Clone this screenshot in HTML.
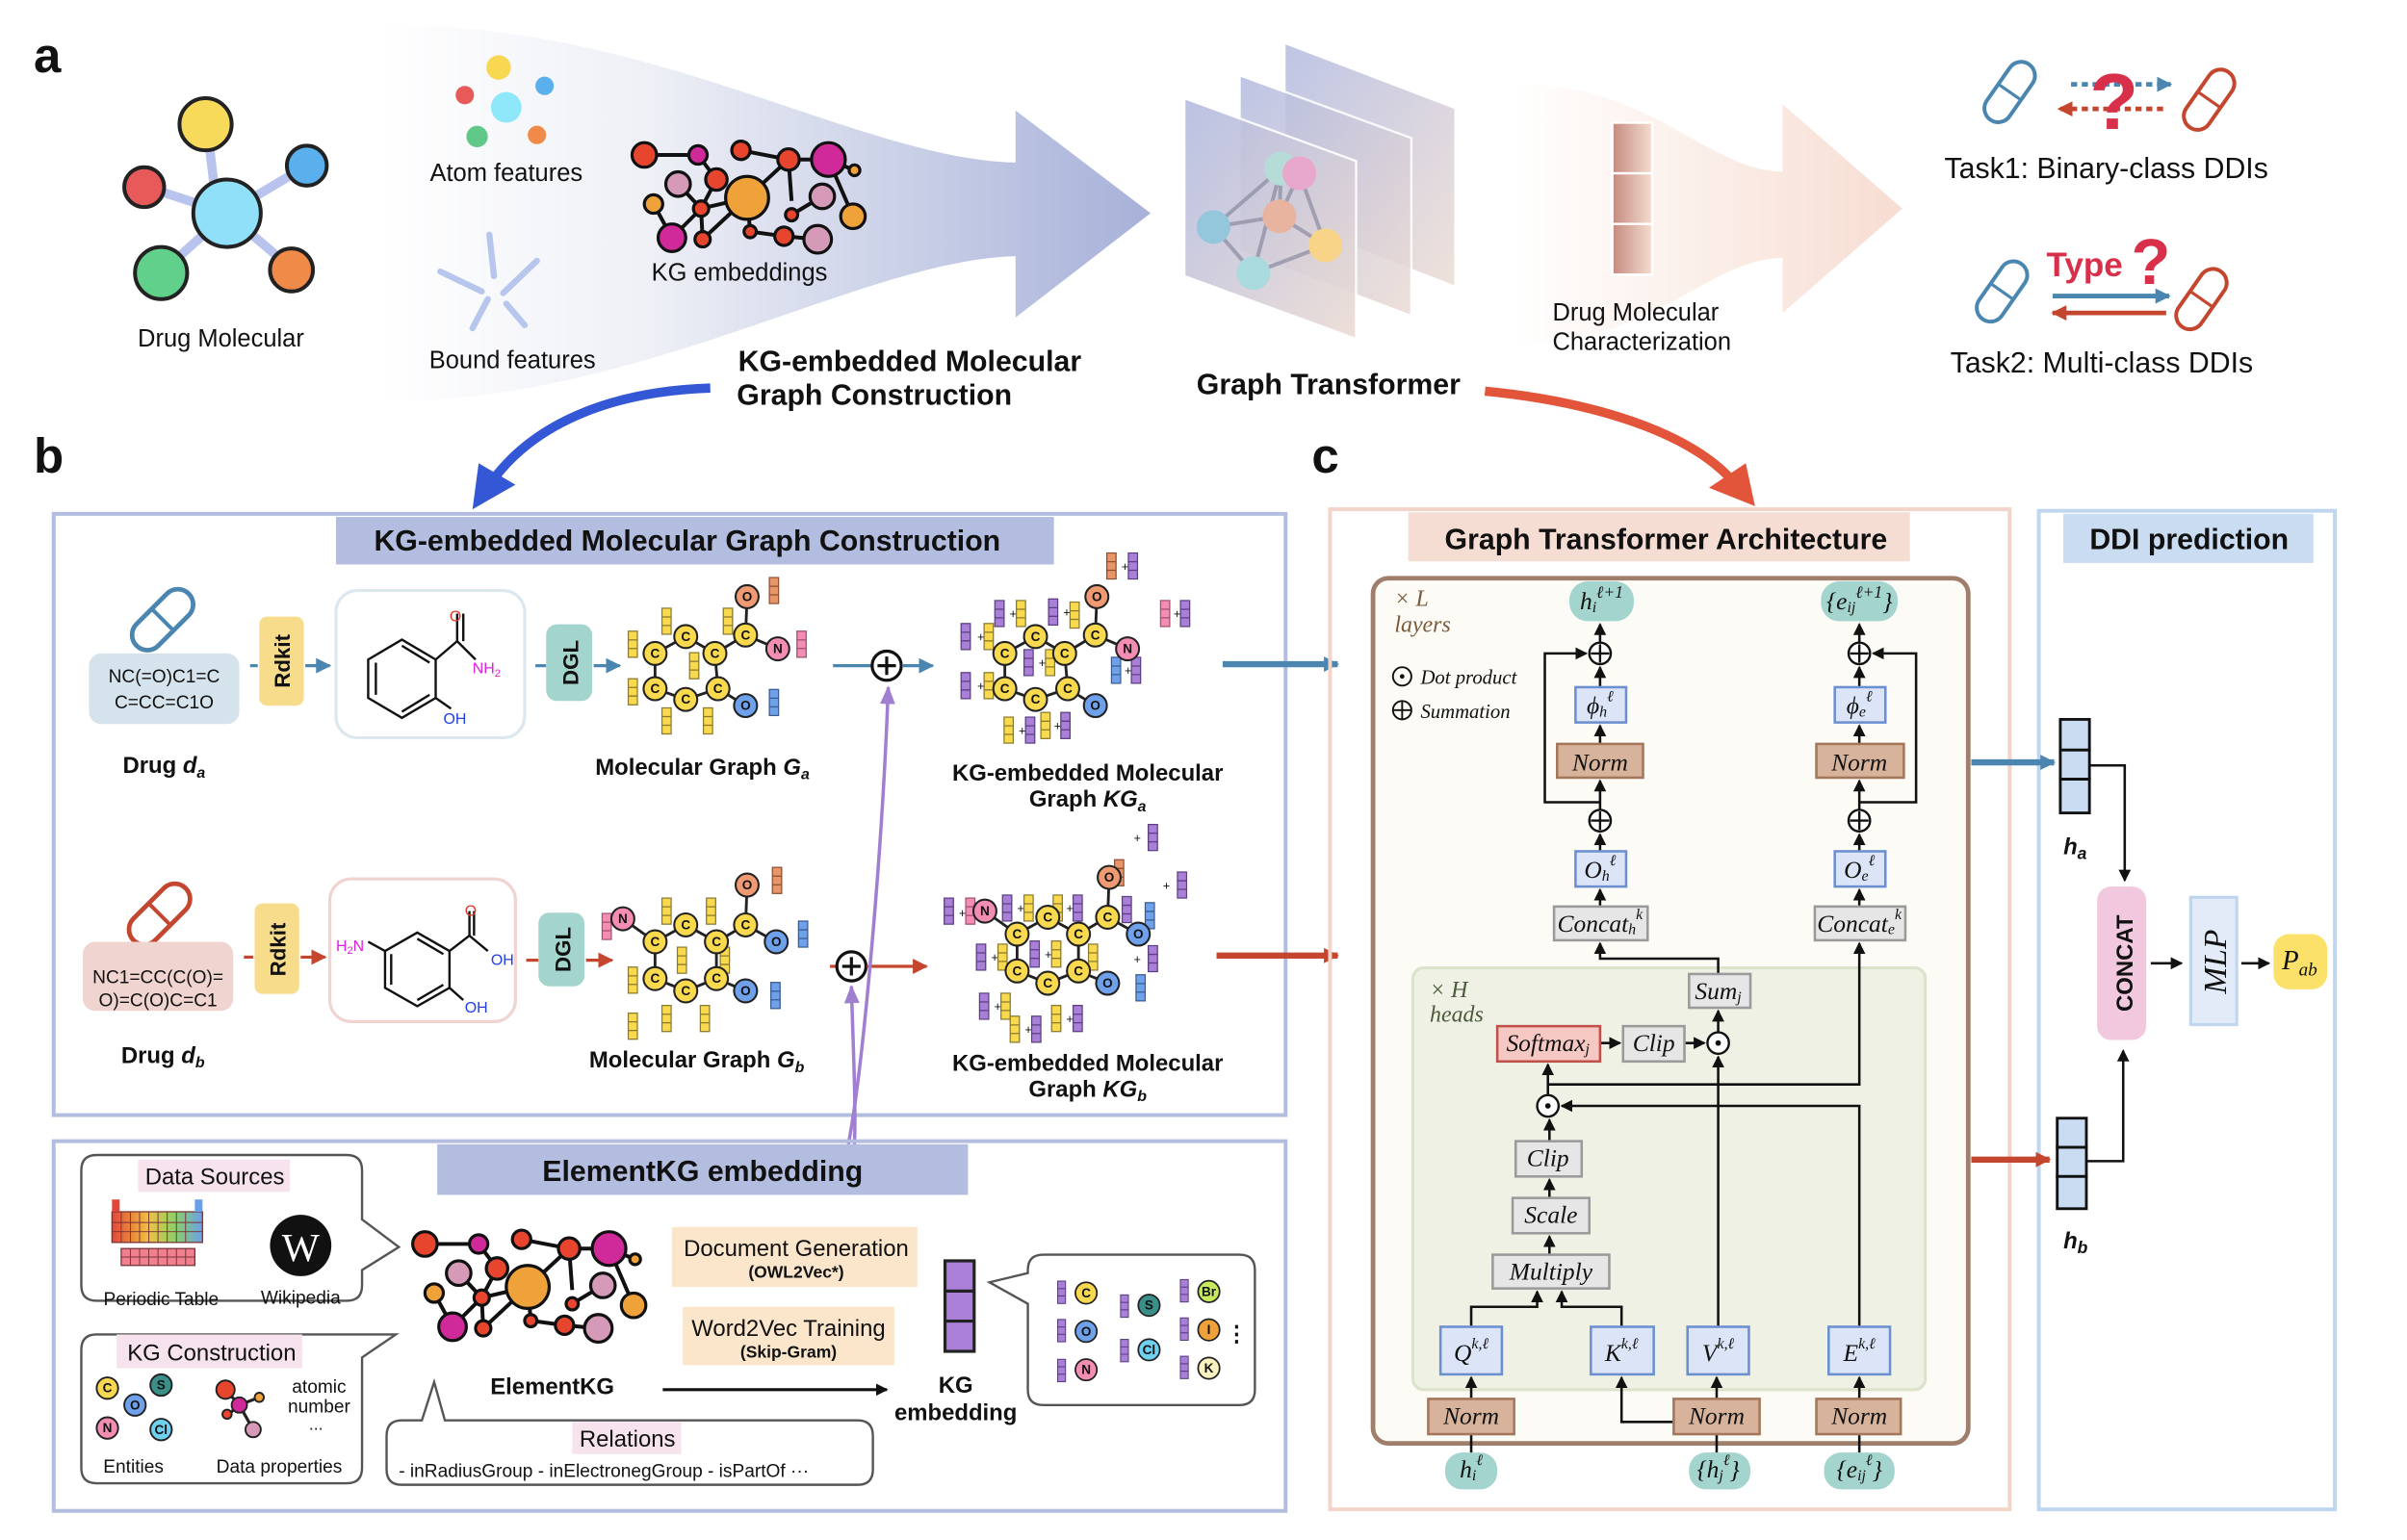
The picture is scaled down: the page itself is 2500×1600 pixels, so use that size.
<!DOCTYPE html>
<html><head><meta charset="utf-8"><style>
html,body{margin:0;padding:0;background:#fff}
svg{display:block}
text{font-family:"Liberation Sans",sans-serif;fill:#111}
.b{font-weight:bold}
.m{font-family:"Liberation Serif",serif;font-style:italic}
.c{fill:#f9d94e;stroke:#222;stroke-width:1.3}
.ct{font-size:8.5px;font-weight:bold;text-anchor:middle;dominant-baseline:central}
.bx{fill:#e6e6e6;stroke:#9a9a9a;stroke-width:1.6}
.bl{fill:#dbe5f7;stroke:#6b8fd0;stroke-width:1.6}
.nm{fill:#d7b39c;stroke:#a4775a;stroke-width:1.6}
.pl{fill:#a3d4cd}
.ln{stroke:#111;stroke-width:1.6;fill:none}
.tl{font-size:16px;font-family:"Liberation Serif",serif;font-style:italic;text-anchor:middle;dominant-baseline:central}
</style></head><body>
<svg width="2500" height="1600" viewBox="0 0 1569 1004" preserveAspectRatio="none" xmlns="http://www.w3.org/2000/svg">
<defs>
<linearGradient id="ga" x1="0" x2="1"><stop offset="0" stop-color="#fff"/><stop offset="0.35" stop-color="#eef0f6"/><stop offset="1" stop-color="#a7b1d9"/></linearGradient>
<linearGradient id="gp" x1="0" x2="1"><stop offset="0" stop-color="#fff"/><stop offset="1" stop-color="#f7ddd2"/></linearGradient>
<linearGradient id="gpan" x1="0" y1="0" x2="1" y2="1"><stop offset="0" stop-color="#b3bbe0"/><stop offset="1" stop-color="#ecdcd4"/></linearGradient>
<linearGradient id="gbar" x1="0" x2="1"><stop offset="0" stop-color="#c58a7f"/><stop offset="1" stop-color="#f5ddd0"/></linearGradient>
<linearGradient id="gpt" x1="0" x2="1"><stop offset="0" stop-color="#e2463a"/><stop offset="0.4" stop-color="#f0c040"/><stop offset="0.7" stop-color="#8ad06a"/><stop offset="1" stop-color="#6aa0e8"/></linearGradient>
<marker id="ar" markerWidth="8" markerHeight="8" refX="7" refY="4" orient="auto" markerUnits="userSpaceOnUse"><path d="M0,0 L8,4 L0,8Z" fill="#111"/></marker>
<marker id="arb" markerWidth="10" markerHeight="10" refX="9" refY="5" orient="auto" markerUnits="userSpaceOnUse"><path d="M0,0 L10,5 L0,10Z" fill="#4a86b0"/></marker>
<marker id="arr" markerWidth="10" markerHeight="10" refX="9" refY="5" orient="auto" markerUnits="userSpaceOnUse"><path d="M0,0 L10,5 L0,10Z" fill="#c4462f"/></marker>
<marker id="arp" markerWidth="12" markerHeight="10" refX="11" refY="5" orient="auto" markerUnits="userSpaceOnUse"><path d="M0,0 L12,5 L0,10Z" fill="#a07fd0"/></marker>
<symbol id="yb" viewBox="0 0 7 18" width="7" height="18"><rect x=".5" y=".5" width="6" height="17" fill="#f9d94e" stroke="#8a7a30" stroke-width=".8"/><path d="M.5,6.2H6.5M.5,11.8H6.5" stroke="#8a7a30" stroke-width=".8"/></symbol>
<symbol id="pb" viewBox="0 0 7 18" width="7" height="18"><rect x=".5" y=".5" width="6" height="17" fill="#a97fd8" stroke="#5a4080" stroke-width=".8"/><path d="M.5,6.2H6.5M.5,11.8H6.5" stroke="#5a4080" stroke-width=".8"/></symbol>
<symbol id="kb" viewBox="0 0 7 18" width="7" height="18"><rect x=".5" y=".5" width="6" height="17" fill="#f38db3" stroke="#a05070" stroke-width=".8"/><path d="M.5,6.2H6.5M.5,11.8H6.5" stroke="#a05070" stroke-width=".8"/></symbol>
<symbol id="bb" viewBox="0 0 7 18" width="7" height="18"><rect x=".5" y=".5" width="6" height="17" fill="#6fa0ea" stroke="#3a5c90" stroke-width=".8"/><path d="M.5,6.2H6.5M.5,11.8H6.5" stroke="#3a5c90" stroke-width=".8"/></symbol>
<symbol id="ob" viewBox="0 0 7 18" width="7" height="18"><rect x=".5" y=".5" width="6" height="17" fill="#e8956a" stroke="#905030" stroke-width=".8"/><path d="M.5,6.2H6.5M.5,11.8H6.5" stroke="#905030" stroke-width=".8"/></symbol>
<g id="kgnet">
<path d="M277,811L312,811L324,827L314,846L295,865M299,830L314,846L315,866M283,843L295,865M314,846L344,839L371,814L340,808M371,814L397,814L414,821M371,814L373,841M393,838L373,850M397,814L413,851M344,839L346,861L368,864L390,866M344,839L315,866" stroke="#111" stroke-width="2.5" fill="none"/>
<g stroke="#111" stroke-width="2">
<circle cx="277" cy="811" r="8" fill="#e8452f"/><circle cx="312" cy="811" r="6" fill="#d02a9a"/><circle cx="324" cy="827" r="7" fill="#e8452f"/><circle cx="299" cy="830" r="8" fill="#d49ab8"/><circle cx="283" cy="843" r="6" fill="#f0a23a"/><circle cx="314" cy="846" r="5" fill="#e8452f"/><circle cx="295" cy="865" r="9" fill="#d02a9a"/><circle cx="315" cy="866" r="5" fill="#e8452f"/><circle cx="344" cy="839" r="14" fill="#f0a23a"/><circle cx="340" cy="808" r="6" fill="#e8452f"/><circle cx="371" cy="814" r="7" fill="#e8452f"/><circle cx="397" cy="814" r="11" fill="#d02a9a"/><circle cx="414" cy="821" r="3.5" fill="#f0a23a"/><circle cx="393" cy="838" r="8" fill="#d49ab8"/><circle cx="373" cy="850" r="4" fill="#e8452f"/><circle cx="413" cy="851" r="8" fill="#f0a23a"/><circle cx="346" cy="861" r="4" fill="#e8452f"/><circle cx="368" cy="864" r="6" fill="#e8452f"/><circle cx="390" cy="866" r="9" fill="#d49ab8"/>
</g></g>
</defs>

<!-- ===== Section a ===== -->
<text x="22" y="47" class="b" font-size="32">a</text>
<path d="M248,17 C420,12 560,104 662,106 L662,72 L750,139 L662,207 L662,167 C560,170 420,262 248,262 Z" fill="url(#ga)"/>
<path d="M987,54 C1080,56 1110,110 1162,112 L1162,68 L1240,136 L1162,204 L1162,168 C1110,170 1080,224 987,224 Z" fill="url(#gp)"/>
<g stroke="#222" stroke-width="2.5">
<line x1="135" y1="82" x2="140" y2="125" stroke="#b8c4ee" stroke-width="6"/><line x1="96" y1="122" x2="148" y2="139" stroke="#b8c4ee" stroke-width="6"/><line x1="200" y1="108" x2="148" y2="139" stroke="#b8c4ee" stroke-width="6"/><line x1="105" y1="178" x2="148" y2="139" stroke="#b8c4ee" stroke-width="6"/><line x1="190" y1="175" x2="148" y2="139" stroke="#b8c4ee" stroke-width="6"/>
<circle cx="148" cy="139" r="22" fill="#8fe0f8"/><circle cx="134" cy="81" r="17" fill="#f8da5a"/><circle cx="94" cy="122" r="13" fill="#e85a5a"/><circle cx="200" cy="108" r="13" fill="#5ab0ec"/><circle cx="105" cy="178" r="17" fill="#60d08a"/><circle cx="190" cy="176" r="14" fill="#f08a48"/>
</g>
<text x="144" y="226" font-size="16" text-anchor="middle">Drug Molecular</text>
<circle cx="325" cy="44" r="8" fill="#f8d850"/><circle cx="355" cy="56" r="6" fill="#5ab0ec"/><circle cx="303" cy="62" r="6" fill="#e85a5a"/><circle cx="330" cy="70" r="10" fill="#8fe8fa"/><circle cx="311" cy="89" r="7" fill="#60c888"/><circle cx="350" cy="88" r="6" fill="#f08a48"/>
<text x="330" y="118" font-size="16" text-anchor="middle">Atom features</text>
<g stroke="#b6c6ec" stroke-width="4" stroke-linecap="round"><line x1="319" y1="153" x2="322" y2="180"/><line x1="287" y1="177" x2="314" y2="190"/><line x1="350" y1="170" x2="328" y2="191"/><line x1="308" y1="214" x2="318" y2="195"/><line x1="330" y1="198" x2="342" y2="212"/></g>
<text x="334" y="240" font-size="16" text-anchor="middle">Bound features</text>
<use href="#kgnet" transform="translate(143,-710)"/>
<text x="482" y="183" font-size="16" text-anchor="middle">KG embeddings</text>
<text x="593" y="242" class="b" font-size="19" text-anchor="middle">KG-embedded Molecular</text>
<text x="570" y="264" class="b" font-size="19" text-anchor="middle">Graph Construction</text>
<polygon points="838,29 948,71 948,186 838,143" fill="url(#gpan)" opacity="0.85"/>
<polygon points="808,49 920,90 920,206 808,164" fill="url(#gpan)" opacity="0.85" stroke="#fff" stroke-width="1.5"/>
<polygon points="772,64 884,105 884,221 772,180" fill="url(#gpan)" opacity="0.9" stroke="#fff" stroke-width="1.5"/>
<g stroke="#8a8aa0" stroke-width="2.5" opacity="0.7" fill="none"><path d="M835,110L847,113L834,141L791,148L817,178L864,160L847,113M835,110L834,141L864,160M835,110L817,178M791,148L835,110"/></g>
<circle cx="835" cy="110" r="11" fill="#b6dcd8"/><circle cx="847" cy="113" r="11" fill="#e8a8cc"/><circle cx="791" cy="148" r="11" fill="#94c6dc"/><circle cx="834" cy="141" r="11" fill="#e8b4a0"/><circle cx="864" cy="160" r="11" fill="#f8d488"/><circle cx="817" cy="178" r="11" fill="#a8dade"/>
<text x="866" y="257" class="b" font-size="19" text-anchor="middle">Graph Transformer</text>
<g stroke="#fff" stroke-width="1.5"><rect x="1051" y="80" width="26" height="33" fill="url(#gbar)"/><rect x="1051" y="113" width="26" height="33" fill="url(#gbar)"/><rect x="1051" y="146" width="26" height="33" fill="url(#gbar)"/></g>
<text x="1012" y="209" font-size="16">Drug Molecular</text>
<text x="1012" y="228" font-size="16">Characterization</text>
<g transform="translate(1310,60) rotate(-55)"><rect x="-22" y="-9" width="44" height="18" rx="9" fill="#fff" stroke="#4a86b0" stroke-width="2.5"/><line x1="0" y1="-9" x2="0" y2="9" stroke="#4a86b0" stroke-width="2"/></g>
<g transform="translate(1440,65) rotate(-55)"><rect x="-22" y="-9" width="44" height="18" rx="9" fill="#fff" stroke="#c4462f" stroke-width="2.5"/><line x1="0" y1="-9" x2="0" y2="9" stroke="#c4462f" stroke-width="2"/></g>
<line x1="1350" y1="55" x2="1415" y2="55" stroke="#4a86b0" stroke-width="3" stroke-dasharray="4,3" marker-end="url(#arb)"/>
<line x1="1410" y1="71" x2="1342" y2="71" stroke="#c4462f" stroke-width="3" stroke-dasharray="4,3" marker-end="url(#arr)"/>
<text x="1378" y="84" class="b" font-size="52" text-anchor="middle" style="fill:#d8304a">?</text>
<text x="1373" y="116" font-size="19" text-anchor="middle">Task1: Binary-class DDIs</text>
<g transform="translate(1305,190) rotate(-55)"><rect x="-22" y="-9" width="44" height="18" rx="9" fill="#fff" stroke="#4a86b0" stroke-width="2.5"/><line x1="0" y1="-9" x2="0" y2="9" stroke="#4a86b0" stroke-width="2"/></g>
<g transform="translate(1435,195) rotate(-55)"><rect x="-22" y="-9" width="44" height="18" rx="9" fill="#fff" stroke="#c4462f" stroke-width="2.5"/><line x1="0" y1="-9" x2="0" y2="9" stroke="#c4462f" stroke-width="2"/></g>
<text x="1334" y="180" class="b" font-size="22" style="fill:#d8304a">Type</text>
<text x="1402" y="185" class="b" font-size="42" style="fill:#d8304a" text-anchor="middle">?</text>
<line x1="1338" y1="193" x2="1414" y2="193" stroke="#4a86b0" stroke-width="3" marker-end="url(#arb)"/>
<line x1="1412" y1="204" x2="1338" y2="204" stroke="#c4462f" stroke-width="3" marker-end="url(#arr)"/>
<text x="1370" y="243" font-size="19" text-anchor="middle">Task2: Multi-class DDIs</text>
<path d="M463,253 C400,255 350,275 322,312" stroke="#3457d5" stroke-width="6" fill="none"/>
<polygon points="308,332 312,302 336,316" fill="#3457d5"/>
<path d="M968,255 C1040,262 1100,282 1128,312" stroke="#e2553a" stroke-width="6" fill="none"/>
<polygon points="1144,330 1114,318 1138,302" fill="#e2553a"/>

<!-- ===== Section b ===== -->
<text x="22" y="308" class="b" font-size="32">b</text>
<rect x="35" y="335" width="803" height="392" fill="none" stroke="#b3bde0" stroke-width="2.5"/>
<rect x="219" y="337" width="468" height="31" fill="#b3bde0"/>
<text x="448" y="359" class="b" font-size="19" text-anchor="middle">KG-embedded Molecular Graph Construction</text>
<g transform="translate(106,404) rotate(-45)"><rect x="-24" y="-10" width="48" height="20" rx="10" fill="#fff" stroke="#4a86b0" stroke-width="3"/><line x1="0" y1="-10" x2="0" y2="10" stroke="#4a86b0" stroke-width="2.5"/></g>
<rect x="58" y="426" width="98" height="46" rx="8" fill="#d5e3ec"/>
<text x="107" y="445" font-size="12" text-anchor="middle">NC(=O)C1=C</text><text x="107" y="462" font-size="12" text-anchor="middle">C=CC=C1O</text>
<text x="80" y="504" class="b" font-size="15">Drug <tspan font-style="italic">d</tspan><tspan font-style="italic" font-size="10" dy="3">a</tspan></text>
<line x1="163" y1="434" x2="168" y2="434" stroke="#4a86b0" stroke-width="2"/>
<rect x="169" y="402" width="29" height="58" rx="5" fill="#f7dc8c"/><text transform="translate(189,431) rotate(-90)" class="b" font-size="14" text-anchor="middle">Rdkit</text>
<line x1="199" y1="434" x2="215" y2="434" stroke="#4a86b0" stroke-width="2" marker-end="url(#arb)"/>
<rect x="219" y="385" width="123" height="96" rx="14" fill="#fff" stroke="#dce8ee" stroke-width="2"/>
<path d="M240,430 L262,417 L284,430 L284,455 L262,468 L240,455Z M245,432 L245,453 M262,421 L280,432 M262,464 L280,453 M284,430 L298,418 M298,418 L298,400 M302,418 L302,400 M298,418 L310,430 M284,455 L294,462" stroke="#111" stroke-width="1.5" fill="none"/>
<text x="293" y="405" font-size="10" style="fill:#e23a2a">O</text><text x="308" y="439" font-size="10" style="fill:#e020e0">NH<tspan font-size="7" dy="2">2</tspan></text><text x="289" y="472" font-size="10" style="fill:#2040e0">OH</text>
<line x1="349" y1="434" x2="356" y2="434" stroke="#4a86b0" stroke-width="2"/>
<rect x="356" y="407" width="30" height="50" rx="7" fill="#a3d4cd"/><text transform="translate(377,432) rotate(-90)" class="b" font-size="14" text-anchor="middle">DGL</text>
<line x1="387" y1="434" x2="404" y2="434" stroke="#4a86b0" stroke-width="2" marker-end="url(#arb)"/>
<g transform="translate(447,436)">
<path d="M-20,-10L0,-21L19,-10L21,13L0,20L-20,13Z M19,-10L39,-22L40,-47M39,-22L60,-13M21,13L39,24" stroke="#222" stroke-width="1.8" fill="none"/>
<use href="#yb" x="-38" y="-25"/><use href="#yb" x="-38" y="6"/><use href="#yb" x="-16" y="-40"/><use href="#yb" x="24" y="-40"/><use href="#yb" x="2" y="-11"/><use href="#yb" x="-16" y="25"/><use href="#yb" x="11" y="25"/><use href="#ob" x="54" y="-60"/><use href="#kb" x="72" y="-25"/><use href="#bb" x="54" y="13"/>
<circle class="c" cx="-20" cy="-10" r="7.5"/><circle class="c" cx="0" cy="-21" r="7.5"/><circle class="c" cx="19" cy="-10" r="7.5"/><circle class="c" cx="21" cy="13" r="7.5"/><circle class="c" cx="0" cy="20" r="7.5"/><circle class="c" cx="-20" cy="13" r="7.5"/><circle class="c" cx="39" cy="-22" r="7.5"/>
<circle cx="40" cy="-47" r="7.5" fill="#ef9a72" stroke="#222" stroke-width="1.3"/><circle cx="60" cy="-13" r="7.5" fill="#f38db3" stroke="#222" stroke-width="1.3"/><circle cx="39" cy="24" r="7.5" fill="#6fa0ea" stroke="#222" stroke-width="1.3"/>
<text class="ct" x="-20" y="-10">C</text><text class="ct" x="0" y="-21">C</text><text class="ct" x="19" y="-10">C</text><text class="ct" x="21" y="13">C</text><text class="ct" x="0" y="20">C</text><text class="ct" x="-20" y="13">C</text><text class="ct" x="39" y="-22">C</text><text class="ct" x="40" y="-47">O</text><text class="ct" x="60" y="-13">N</text><text class="ct" x="39" y="24">O</text>
</g>
<text x="388" y="505" class="b" font-size="15">Molecular Graph <tspan font-style="italic">G</tspan><tspan font-style="italic" font-size="10" dy="3">a</tspan></text>
<line x1="543" y1="434" x2="568" y2="434" stroke="#4a86b0" stroke-width="2"/>
<circle cx="578" cy="434" r="9.5" fill="#fff" stroke="#111" stroke-width="2"/><path d="M572,434H584M578,428V440" stroke="#111" stroke-width="2"/>
<line x1="588" y1="434" x2="608" y2="434" stroke="#4a86b0" stroke-width="2" marker-end="url(#arb)"/>
<g transform="translate(675,436)">
<path d="M-20,-10L0,-21L19,-10L21,13L0,20L-20,13Z M19,-10L39,-22L40,-47M39,-22L60,-13M21,13L39,24" stroke="#222" stroke-width="1.8" fill="none"/>
<use href="#pb" x="-49" y="-30"/><text x="-38" y="-18" font-size="8">+</text><use href="#yb" x="-34" y="-30"/>
<use href="#pb" x="-49" y="2"/><text x="-38" y="14" font-size="8">+</text><use href="#yb" x="-34" y="2"/>
<use href="#pb" x="-27" y="-45"/><text x="-17" y="-33" font-size="8">+</text><use href="#yb" x="-13" y="-45"/>
<use href="#pb" x="8" y="-46"/><text x="18" y="-34" font-size="8">+</text><use href="#yb" x="22" y="-44"/>
<use href="#pb" x="-8" y="-13"/><text x="2" y="-1" font-size="8">+</text><use href="#yb" x="6" y="-13"/>
<use href="#yb" x="-21" y="31"/><text x="-11" y="43" font-size="8">+</text><use href="#pb" x="-7" y="31"/>
<use href="#yb" x="3" y="28"/><text x="12" y="40" font-size="8">+</text><use href="#pb" x="16" y="28"/>
<use href="#ob" x="46" y="-76"/><text x="56" y="-64" font-size="8">+</text><use href="#pb" x="60" y="-76"/>
<use href="#kb" x="81" y="-45"/><text x="90" y="-33" font-size="8">+</text><use href="#pb" x="94" y="-45"/>
<use href="#bb" x="49" y="-8"/><text x="58" y="4" font-size="8">+</text><use href="#pb" x="62" y="-8"/>
<circle class="c" cx="-20" cy="-10" r="7.5"/><circle class="c" cx="0" cy="-21" r="7.5"/><circle class="c" cx="19" cy="-10" r="7.5"/><circle class="c" cx="21" cy="13" r="7.5"/><circle class="c" cx="0" cy="20" r="7.5"/><circle class="c" cx="-20" cy="13" r="7.5"/><circle class="c" cx="39" cy="-22" r="7.5"/>
<circle cx="40" cy="-47" r="7.5" fill="#ef9a72" stroke="#222" stroke-width="1.3"/><circle cx="60" cy="-13" r="7.5" fill="#f38db3" stroke="#222" stroke-width="1.3"/><circle cx="39" cy="24" r="7.5" fill="#6fa0ea" stroke="#222" stroke-width="1.3"/>
<text class="ct" x="-20" y="-10">C</text><text class="ct" x="0" y="-21">C</text><text class="ct" x="19" y="-10">C</text><text class="ct" x="21" y="13">C</text><text class="ct" x="0" y="20">C</text><text class="ct" x="-20" y="13">C</text><text class="ct" x="39" y="-22">C</text><text class="ct" x="40" y="-47">O</text><text class="ct" x="60" y="-13">N</text><text class="ct" x="39" y="24">O</text>
</g>
<text x="709" y="509" class="b" font-size="15" text-anchor="middle">KG-embedded Molecular</text>
<text x="709" y="526" class="b" font-size="15" text-anchor="middle">Graph <tspan font-style="italic">KG</tspan><tspan font-style="italic" font-size="10" dy="3">a</tspan></text>
<line x1="797" y1="433" x2="872" y2="433" stroke="#4a86b0" stroke-width="4" marker-end="url(#arb)"/>
<g transform="translate(104,596) rotate(-45)"><rect x="-24" y="-10" width="48" height="20" rx="10" fill="#fff" stroke="#c4462f" stroke-width="3"/><line x1="0" y1="-10" x2="0" y2="10" stroke="#c4462f" stroke-width="2.5"/></g>
<rect x="54" y="614" width="98" height="45" rx="8" fill="#efd4d0"/>
<text x="103" y="641" font-size="12" text-anchor="middle">NC1=CC(C(O)=</text><text x="103" y="656" font-size="12" text-anchor="middle">O)=C(O)C=C1</text>
<text x="79" y="693" class="b" font-size="15">Drug <tspan font-style="italic">d</tspan><tspan font-style="italic" font-size="10" dy="3">b</tspan></text>
<line x1="159" y1="624" x2="165" y2="624" stroke="#c4462f" stroke-width="2"/>
<rect x="166" y="589" width="29" height="59" rx="5" fill="#f7dc8c"/><text transform="translate(186,619) rotate(-90)" class="b" font-size="14" text-anchor="middle">Rdkit</text>
<line x1="196" y1="624" x2="212" y2="624" stroke="#c4462f" stroke-width="2" marker-end="url(#arr)"/>
<rect x="215" y="573" width="121" height="93" rx="14" fill="#fff" stroke="#efd4d0" stroke-width="2"/>
<path d="M251,620 L272,608 L293,620 L293,644 L272,656 L251,644Z M255,622 L255,642 M272,612 L289,622 M272,652 L289,642 M251,620 L240,614 M293,620 L306,610 M306,610 L306,594 M309,610 L309,594 M306,610 L318,620 M293,644 L302,652" stroke="#111" stroke-width="1.5" fill="none"/>
<text x="219" y="620" font-size="10" style="fill:#e020e0">H<tspan font-size="7" dy="2">2</tspan><tspan dy="-2">N</tspan></text><text x="303" y="597" font-size="10" style="fill:#e23a2a">O</text><text x="320" y="629" font-size="10" style="fill:#2040e0">OH</text><text x="303" y="660" font-size="10" style="fill:#2040e0">OH</text>
<line x1="343" y1="626" x2="351" y2="626" stroke="#c4462f" stroke-width="2"/>
<rect x="351" y="595" width="30" height="48" rx="7" fill="#a3d4cd"/><text transform="translate(372,619) rotate(-90)" class="b" font-size="14" text-anchor="middle">DGL</text>
<line x1="382" y1="626" x2="399" y2="626" stroke="#c4462f" stroke-width="2" marker-end="url(#arr)"/>
<g transform="translate(447,625)">
<path d="M-20,-11L0,-22L20,-11L20,13L0,21L-20,13Z M-20,-11L-41,-26 M20,-11L39,-22L40,-48M39,-22L59,-11M20,13L39,21" stroke="#222" stroke-width="1.8" fill="none"/>
<use href="#yb" x="-38" y="5"/><use href="#yb" x="-16" y="-40"/><use href="#yb" x="13" y="-40"/><use href="#yb" x="-6" y="-8"/><use href="#yb" x="22" y="-8"/><use href="#yb" x="-38" y="35"/><use href="#yb" x="-16" y="30"/><use href="#yb" x="9" y="30"/><use href="#kb" x="-55" y="-30"/><use href="#ob" x="56" y="-60"/><use href="#bb" x="73" y="-25"/><use href="#bb" x="55" y="15"/>
<circle class="c" cx="-20" cy="-11" r="7.5"/><circle class="c" cx="0" cy="-22" r="7.5"/><circle class="c" cx="20" cy="-11" r="7.5"/><circle class="c" cx="20" cy="13" r="7.5"/><circle class="c" cx="0" cy="21" r="7.5"/><circle class="c" cx="-20" cy="13" r="7.5"/><circle class="c" cx="39" cy="-22" r="7.5"/>
<circle cx="-41" cy="-26" r="7.5" fill="#f38db3" stroke="#222" stroke-width="1.3"/><circle cx="40" cy="-48" r="7.5" fill="#ef9a72" stroke="#222" stroke-width="1.3"/><circle cx="59" cy="-11" r="7.5" fill="#6fa0ea" stroke="#222" stroke-width="1.3"/><circle cx="39" cy="21" r="7.5" fill="#6fa0ea" stroke="#222" stroke-width="1.3"/>
<text class="ct" x="-20" y="-11">C</text><text class="ct" x="0" y="-22">C</text><text class="ct" x="20" y="-11">C</text><text class="ct" x="20" y="13">C</text><text class="ct" x="0" y="21">C</text><text class="ct" x="-20" y="13">C</text><text class="ct" x="39" y="-22">C</text><text class="ct" x="-41" y="-26">N</text><text class="ct" x="40" y="-48">O</text><text class="ct" x="59" y="-11">O</text><text class="ct" x="39" y="21">O</text>
</g>
<text x="384" y="696" class="b" font-size="15">Molecular Graph <tspan font-style="italic">G</tspan><tspan font-style="italic" font-size="10" dy="3">b</tspan></text>
<line x1="541" y1="630" x2="545" y2="630" stroke="#c4462f" stroke-width="2"/>
<circle cx="555" cy="630" r="9.5" fill="#fff" stroke="#111" stroke-width="2"/><path d="M549,630H561M555,624V636" stroke="#111" stroke-width="2"/>
<line x1="565" y1="630" x2="604" y2="630" stroke="#c4462f" stroke-width="2" marker-end="url(#arr)"/>
<g transform="translate(683,620)">
<path d="M-20,-11L0,-22L20,-11L20,13L0,21L-20,13Z M-20,-11L-41,-26 M20,-11L39,-22L40,-48M39,-22L59,-11M20,13L39,21" stroke="#222" stroke-width="1.8" fill="none"/>
<use href="#pb" x="-68" y="-35"/><text x="-58" y="-22" font-size="8">+</text><use href="#kb" x="-54" y="-35"/>
<use href="#pb" x="-30" y="-37"/><text x="-20" y="-25" font-size="8">+</text><use href="#yb" x="-16" y="-37"/>
<use href="#yb" x="3" y="-37"/><text x="12" y="-25" font-size="8">+</text><use href="#pb" x="16" y="-37"/>
<use href="#pb" x="-47" y="-5"/><text x="-37" y="7" font-size="8">+</text><use href="#yb" x="-33" y="-5"/>
<use href="#pb" x="-12" y="-7"/><text x="-2" y="5" font-size="8">+</text><use href="#yb" x="2" y="-7"/>
<use href="#yb" x="26" y="-5"/>
<use href="#pb" x="-45" y="27"/><text x="-35" y="39" font-size="8">+</text><use href="#yb" x="-31" y="27"/>
<use href="#yb" x="-25" y="42"/><text x="-15" y="54" font-size="8">+</text><use href="#pb" x="-11" y="42"/>
<use href="#yb" x="2" y="35"/><text x="12" y="47" font-size="8">+</text><use href="#pb" x="16" y="35"/>
<use href="#ob" x="43" y="-60"/><use href="#bb" x="63" y="-32"/><use href="#pb" x="48" y="-36"/>
<use href="#pb" x="65" y="-83"/><text x="56" y="-71" font-size="8">+</text>
<use href="#pb" x="84" y="-52"/><text x="75" y="-40" font-size="8">+</text>
<use href="#pb" x="65" y="-4"/><text x="56" y="8" font-size="8">+</text><use href="#bb" x="57" y="15"/>
<circle class="c" cx="-20" cy="-11" r="7.5"/><circle class="c" cx="0" cy="-22" r="7.5"/><circle class="c" cx="20" cy="-11" r="7.5"/><circle class="c" cx="20" cy="13" r="7.5"/><circle class="c" cx="0" cy="21" r="7.5"/><circle class="c" cx="-20" cy="13" r="7.5"/><circle class="c" cx="39" cy="-22" r="7.5"/>
<circle cx="-41" cy="-26" r="7.5" fill="#f38db3" stroke="#222" stroke-width="1.3"/><circle cx="40" cy="-48" r="7.5" fill="#ef9a72" stroke="#222" stroke-width="1.3"/><circle cx="59" cy="-11" r="7.5" fill="#6fa0ea" stroke="#222" stroke-width="1.3"/><circle cx="39" cy="21" r="7.5" fill="#6fa0ea" stroke="#222" stroke-width="1.3"/>
<text class="ct" x="-20" y="-11">C</text><text class="ct" x="0" y="-22">C</text><text class="ct" x="20" y="-11">C</text><text class="ct" x="20" y="13">C</text><text class="ct" x="0" y="21">C</text><text class="ct" x="-20" y="13">C</text><text class="ct" x="39" y="-22">C</text><text class="ct" x="-41" y="-26">N</text><text class="ct" x="40" y="-48">O</text><text class="ct" x="59" y="-11">O</text><text class="ct" x="39" y="21">O</text>
</g>
<text x="709" y="698" class="b" font-size="15" text-anchor="middle">KG-embedded Molecular</text>
<text x="709" y="715" class="b" font-size="15" text-anchor="middle">Graph <tspan font-style="italic">KG</tspan><tspan font-style="italic" font-size="10" dy="3">b</tspan></text>
<line x1="793" y1="623" x2="872" y2="623" stroke="#c4462f" stroke-width="4" marker-end="url(#arr)"/>
<path d="M553,746 C562,700 575,560 579,448" stroke="#a07fd0" stroke-width="2.2" fill="none" marker-end="url(#arp)"/>
<path d="M557,746 C558,720 556,680 555,643" stroke="#a07fd0" stroke-width="2.2" fill="none" marker-end="url(#arp)"/>

<!-- ElementKG embedding -->
<rect x="35" y="744" width="803" height="241" fill="none" stroke="#b3bde0" stroke-width="2.5"/>
<rect x="285" y="746" width="346" height="33" fill="#b3bde0"/>
<text x="458" y="770" class="b" font-size="19" text-anchor="middle">ElementKG embedding</text>
<path d="M63,753 H226 Q236,753 236,763 V795 L260,813 L236,828 V838 Q236,848 226,848 H63 Q53,848 53,838 V763 Q53,753 63,753Z" fill="#fff" stroke="#555" stroke-width="1.5"/>
<rect x="90" y="756" width="99" height="21" fill="#f6e3ee"/><text x="140" y="772" font-size="15" text-anchor="middle">Data Sources</text>
<rect x="73" y="790" width="59" height="20" fill="url(#gpt)" stroke="#733" stroke-width="0.8"/><rect x="73" y="782" width="5" height="8" fill="#e2463a"/><rect x="127" y="782" width="5" height="8" fill="#6aa0e8"/>
<path d="M73,797H132M73,803H132M79,790V810M85,790V810M91,790V810M97,790V810M103,790V810M109,790V810M115,790V810M121,790V810" stroke="#733" stroke-width="0.6"/>
<rect x="79" y="814" width="48" height="11" fill="#f08090" stroke="#733" stroke-width="0.8"/><path d="M79,819.5H127M85,814V825M91,814V825M97,814V825M103,814V825M109,814V825M115,814V825M121,814V825" stroke="#733" stroke-width="0.6"/>
<circle cx="196" cy="812" r="20" fill="#111"/><text x="196" y="822" font-size="26" text-anchor="middle" style="fill:#fff;font-family:'Liberation Serif',serif">W</text>
<text x="105" y="851" font-size="12" text-anchor="middle">Periodic Table</text><text x="196" y="850" font-size="12" text-anchor="middle">Wikipedia</text>
<path d="M63,870 H232 L258,870 L236,885 V957 Q236,967 226,967 H63 Q53,967 53,957 V880 Q53,870 63,870Z" fill="#fff" stroke="#555" stroke-width="1.5"/>
<rect x="76" y="870" width="121" height="22" fill="#f6e3ee"/><text x="138" y="887" font-size="15" text-anchor="middle">KG Construction</text>
<g stroke="#222" stroke-width="1.2"><circle cx="70" cy="905" r="7" fill="#f8d850"/><circle cx="105" cy="903" r="7" fill="#3a9088"/><circle cx="88" cy="916" r="7" fill="#6fa0ea"/><circle cx="70" cy="931" r="7" fill="#f38db3"/><circle cx="105" cy="932" r="7" fill="#70d0f0"/></g>
<text class="ct" x="70" y="905" font-size="7">C</text><text class="ct" x="105" y="903" font-size="7">S</text><text class="ct" x="88" y="916" font-size="7">O</text><text class="ct" x="70" y="931" font-size="7">N</text><text class="ct" x="105" y="932" font-size="7">Cl</text>
<path d="M147,906L156,916L169,911M149,922L156,916L165,932" stroke="#222" stroke-width="2" fill="none"/>
<g stroke="#222" stroke-width="1.2"><circle cx="147" cy="906" r="6" fill="#e8452f"/><circle cx="156" cy="916" r="5" fill="#d02a9a"/><circle cx="169" cy="911" r="3" fill="#f0a23a"/><circle cx="148" cy="922" r="3" fill="#e8452f"/><circle cx="165" cy="932" r="5" fill="#d49ab8"/></g>
<text x="208" y="908" font-size="12" text-anchor="middle">atomic</text><text x="208" y="921" font-size="12" text-anchor="middle">number</text><text x="206" y="932" font-size="11" text-anchor="middle">...</text>
<text x="87" y="960" font-size="12" text-anchor="middle">Entities</text><text x="182" y="960" font-size="12" text-anchor="middle">Data properties</text>
<use href="#kgnet"/>
<text x="360" y="909" class="b" font-size="15" text-anchor="middle">ElementKG</text>
<rect x="438" y="800" width="160" height="39" fill="#fbe6cc"/><text x="519" y="819" font-size="15" text-anchor="middle">Document Generation</text><text x="519" y="833" class="b" font-size="11" text-anchor="middle">(OWL2Vec*)</text>
<rect x="445" y="852" width="138" height="38" fill="#fbe6cc"/><text x="514" y="871" font-size="15" text-anchor="middle">Word2Vec Training</text><text x="514" y="885" class="b" font-size="11" text-anchor="middle">(Skip-Gram)</text>
<line x1="432" y1="906" x2="578" y2="906" stroke="#111" stroke-width="2" marker-end="url(#ar)"/>
<text x="623" y="908" class="b" font-size="15" text-anchor="middle">KG</text><text x="623" y="926" class="b" font-size="15" text-anchor="middle">embedding</text>
<rect x="616" y="822" width="19" height="59" fill="#a97fd8" stroke="#222" stroke-width="2"/><path d="M616,841.7H635M616,861.3H635" stroke="#222" stroke-width="2"/>
<path d="M680,818 H808 Q818,818 818,828 V906 Q818,916 808,916 H680 Q670,916 670,906 V850 L645,836 L670,830 V828 Q670,818 680,818Z" fill="#fff" stroke="#555" stroke-width="1.5"/>
<g stroke="#222" stroke-width="1.1"><circle cx="708" cy="843" r="7" fill="#f8d850"/><circle cx="708" cy="868" r="7" fill="#6fa0ea"/><circle cx="708" cy="893" r="7" fill="#f38db3"/><circle cx="749" cy="851" r="7" fill="#3a9088"/><circle cx="749" cy="880" r="7" fill="#70d0f0"/><circle cx="788" cy="842" r="7" fill="#c8e860"/><circle cx="788" cy="867" r="7" fill="#f0a23a"/><circle cx="788" cy="892" r="7" fill="#fbf2c0"/></g>
<use href="#pb" x="689" y="834" width="6" height="17"/><use href="#pb" x="689" y="859" width="6" height="17"/><use href="#pb" x="689" y="885" width="6" height="17"/><use href="#pb" x="730" y="843" width="6" height="17"/><use href="#pb" x="730" y="872" width="6" height="17"/><use href="#pb" x="769" y="833" width="6" height="17"/><use href="#pb" x="769" y="858" width="6" height="17"/><use href="#pb" x="769" y="883" width="6" height="17"/>
<text class="ct" x="708" y="843" font-size="7">C</text><text class="ct" x="708" y="868" font-size="7">O</text><text class="ct" x="708" y="893" font-size="7">N</text><text class="ct" x="749" y="851" font-size="7">S</text><text class="ct" x="749" y="880" font-size="7">Cl</text><text class="ct" x="788" y="842" font-size="7">Br</text><text class="ct" x="788" y="867" font-size="7">I</text><text class="ct" x="788" y="892" font-size="7">K</text>
<text x="806" y="874" class="b" font-size="14" text-anchor="middle">⋮</text>
<path d="M262,926 H275 L283,901 L290,926 H559 Q569,926 569,936 V958 Q569,968 559,968 H262 Q252,968 252,958 V936 Q252,926 262,926Z" fill="#fff" stroke="#555" stroke-width="1.5"/>
<rect x="373" y="927" width="71" height="21" fill="#f6e3ee"/><text x="409" y="943" font-size="15" text-anchor="middle">Relations</text>
<text x="260" y="963" font-size="12">- inRadiusGroup   - inElectronegGroup    - isPartOf   ···</text>

<!-- ===== Section c ===== -->
<text x="855" y="308" class="b" font-size="32">c</text>
<rect x="867" y="332" width="443" height="652" fill="none" stroke="#f3d4c8" stroke-width="2.5"/>
<rect x="918" y="334" width="327" height="32" fill="#f5ddd3"/>
<text x="1086" y="358" class="b" font-size="19" text-anchor="middle">Graph Transformer Architecture</text>
<rect x="895" y="377" width="388" height="564" rx="10" fill="#fcfbf5" stroke="#a07e6c" stroke-width="3"/>
<rect x="921" y="631" width="334" height="275" rx="7" fill="#eef1e4" stroke="#dbe3cb" stroke-width="2"/>
<text x="909" y="395" class="m" font-size="15" style="fill:#7a5a3a">×<tspan> L</tspan></text><text x="909" y="412" class="m" font-size="15" style="fill:#7a5a3a">layers</text>
<circle cx="914" cy="441" r="6" fill="none" stroke="#111" stroke-width="1.2"/><circle cx="914" cy="441" r="1.5" fill="#111"/><text x="926" y="446" class="m" font-size="13">Dot  product</text>
<circle cx="914" cy="463" r="6" fill="none" stroke="#111" stroke-width="1.2"/><path d="M908,463H920M914,457V469" stroke="#111" stroke-width="1.2"/><text x="926" y="468" class="m" font-size="13">Summation</text>
<text x="932" y="650" class="m" font-size="15" style="fill:#4a5a3a">×<tspan> H</tspan></text><text x="932" y="666" class="m" font-size="15" style="fill:#4a5a3a">heads</text>
<g class="ln">
<path d="M959,947V935"/><path d="M959,912V898" marker-end="url(#ar)"/>
<path d="M1119,947V935"/><path d="M1119,912V898" marker-end="url(#ar)"/>
<path d="M1091,927H1057V898" marker-end="url(#ar)"/>
<path d="M1212,947V935"/><path d="M1212,912V898" marker-end="url(#ar)"/>
<path d="M959,865V852H1002V842" marker-end="url(#ar)"/><path d="M1057,865V852H1018V842" marker-end="url(#ar)"/>
<path d="M1010,818V806" marker-end="url(#ar)"/><path d="M1010,781V769" marker-end="url(#ar)"/><path d="M1010,744V730" marker-end="url(#ar)"/>
<path d="M1212,865V721H1018" marker-end="url(#ar)"/>
<path d="M1009,714V694" marker-end="url(#ar)"/>
<path d="M1009,707H1212V615" marker-end="url(#ar)"/>
<path d="M1043,680H1056" marker-end="url(#ar)"/><path d="M1098,680H1111" marker-end="url(#ar)"/>
<path d="M1120,865V689" marker-end="url(#ar)"/><path d="M1120,673V659" marker-end="url(#ar)"/>
<path d="M1120,635V625H1043V615" marker-end="url(#ar)"/>
<path d="M1043,591V580" marker-end="url(#ar)"/><path d="M1043,555V544" marker-end="url(#ar)"/><path d="M1043,528V509" marker-end="url(#ar)"/><path d="M1043,485V473" marker-end="url(#ar)"/><path d="M1043,448V435" marker-end="url(#ar)"/><path d="M1043,419V407" marker-end="url(#ar)"/>
<path d="M1043,523H1007V426H1034" marker-end="url(#ar)"/>
<path d="M1212,591V580" marker-end="url(#ar)"/><path d="M1212,555V544" marker-end="url(#ar)"/><path d="M1212,528V509" marker-end="url(#ar)"/><path d="M1212,485V473" marker-end="url(#ar)"/><path d="M1212,448V435" marker-end="url(#ar)"/><path d="M1212,419V407" marker-end="url(#ar)"/>
<path d="M1212,523H1249V426H1221" marker-end="url(#ar)"/>
</g>
<g fill="#fff" stroke="#111" stroke-width="1.5">
<circle cx="1043" cy="426" r="7"/><circle cx="1043" cy="535" r="7"/><circle cx="1212" cy="426" r="7"/><circle cx="1212" cy="535" r="7"/><circle cx="1120" cy="680" r="7"/><circle cx="1009" cy="721" r="7"/></g>
<path d="M1037,426H1049M1043,420V432M1037,535H1049M1043,529V541M1206,426H1218M1212,420V432M1206,535H1218M1212,529V541" stroke="#111" stroke-width="1.5"/>
<circle cx="1120" cy="680" r="1.8" fill="#111"/><circle cx="1009" cy="721" r="1.8" fill="#111"/>
<rect class="pl" x="1023" y="379" width="42" height="26" rx="12"/><text class="tl" x="1044" y="392">h<tspan font-size="10" dy="4">i</tspan><tspan font-size="11" dy="-10">ℓ+1</tspan></text>
<rect class="pl" x="1187" y="379" width="50" height="26" rx="12"/><text class="tl" x="1212" y="392">{e<tspan font-size="10" dy="4">ij</tspan><tspan font-size="11" dy="-10">ℓ+1</tspan><tspan dy="6">}</tspan></text>
<rect class="bl" x="1027" y="448" width="33" height="23"/><text class="tl" x="1043" y="460">ϕ<tspan font-size="10" dy="4">h</tspan><tspan font-size="10" dy="-10">ℓ</tspan></text>
<rect class="bl" x="1196" y="448" width="33" height="23"/><text class="tl" x="1212" y="460">ϕ<tspan font-size="10" dy="4">e</tspan><tspan font-size="10" dy="-10">ℓ</tspan></text>
<rect class="nm" x="1015" y="485" width="56" height="22"/><text class="tl" x="1043" y="497">Norm</text>
<rect class="nm" x="1184" y="485" width="57" height="22"/><text class="tl" x="1212" y="497">Norm</text>
<rect class="bl" x="1027" y="555" width="33" height="23"/><text class="tl" x="1043" y="567">O<tspan font-size="10" dy="4">h</tspan><tspan font-size="10" dy="-10">ℓ</tspan></text>
<rect class="bl" x="1196" y="555" width="33" height="23"/><text class="tl" x="1212" y="567">O<tspan font-size="10" dy="4">e</tspan><tspan font-size="10" dy="-10">ℓ</tspan></text>
<rect class="bx" x="1013" y="591" width="61" height="22"/><text class="tl" x="1043" y="602">Concat<tspan font-size="10" dy="4">h</tspan><tspan font-size="10" dy="-10">k</tspan></text>
<rect class="bx" x="1183" y="591" width="59" height="22"/><text class="tl" x="1212" y="602">Concat<tspan font-size="10" dy="4">e</tspan><tspan font-size="10" dy="-10">k</tspan></text>
<rect class="bx" x="1101" y="635" width="40" height="22"/><text class="tl" x="1120" y="646">Sum<tspan font-size="10" dy="4">j</tspan></text>
<rect x="976" y="669" width="67" height="23" fill="#f6c8c4" stroke="#c0504a" stroke-width="1.6"/><text class="tl" x="1009" y="680">Softmax<tspan font-size="10" dy="4">j</tspan></text>
<rect class="bx" x="1058" y="669" width="40" height="23"/><text class="tl" x="1078" y="680">Clip</text>
<rect class="bx" x="988" y="744" width="43" height="23"/><text class="tl" x="1009" y="755">Clip</text>
<rect class="bx" x="986" y="781" width="50" height="23"/><text class="tl" x="1011" y="792">Scale</text>
<rect class="bx" x="973" y="818" width="76" height="22"/><text class="tl" x="1011" y="829">Multiply</text>
<rect class="bl" x="939" y="865" width="40" height="31"/><text class="tl" x="959" y="882">Q<tspan font-size="10" dy="-6">k,ℓ</tspan></text>
<rect class="bl" x="1037" y="865" width="41" height="31"/><text class="tl" x="1057" y="882">K<tspan font-size="10" dy="-6">k,ℓ</tspan></text>
<rect class="bl" x="1100" y="865" width="40" height="31"/><text class="tl" x="1120" y="882">V<tspan font-size="10" dy="-6">k,ℓ</tspan></text>
<rect class="bl" x="1192" y="865" width="40" height="31"/><text class="tl" x="1212" y="882">E<tspan font-size="10" dy="-6">k,ℓ</tspan></text>
<rect class="nm" x="931" y="912" width="56" height="23"/><text class="tl" x="959" y="923">Norm</text>
<rect class="nm" x="1091" y="912" width="56" height="23"/><text class="tl" x="1119" y="923">Norm</text>
<rect class="nm" x="1184" y="912" width="55" height="23"/><text class="tl" x="1212" y="923">Norm</text>
<rect class="pl" x="942" y="947" width="34" height="24" rx="11"/><text class="tl" x="959" y="958">h<tspan font-size="10" dy="4">i</tspan><tspan font-size="10" dy="-10">ℓ</tspan></text>
<rect class="pl" x="1101" y="947" width="40" height="24" rx="11"/><text class="tl" x="1120" y="958">{h<tspan font-size="10" dy="4">j</tspan><tspan font-size="10" dy="-10">ℓ</tspan><tspan dy="6">}</tspan></text>
<rect class="pl" x="1189" y="947" width="46" height="24" rx="11"/><text class="tl" x="1212" y="958">{e<tspan font-size="10" dy="4">ij</tspan><tspan font-size="10" dy="-10">ℓ</tspan><tspan dy="6">}</tspan></text>

<!-- DDI prediction -->
<rect x="1329" y="333" width="193" height="651" fill="none" stroke="#c0d6ee" stroke-width="2.5"/>
<rect x="1345" y="335" width="163" height="32" fill="#c9dcf2"/>
<text x="1427" y="358" class="b" font-size="19" text-anchor="middle">DDI prediction</text>
<line x1="1285" y1="497" x2="1339" y2="497" stroke="#4a86b0" stroke-width="4" marker-end="url(#arb)"/>
<line x1="1285" y1="756" x2="1336" y2="756" stroke="#c4462f" stroke-width="4" marker-end="url(#arr)"/>
<g fill="#c9dcf2" stroke="#111" stroke-width="1.8"><rect x="1343" y="469" width="19" height="20"/><rect x="1343" y="489" width="19" height="19"/><rect x="1343" y="508" width="19" height="22"/>
<rect x="1341" y="729" width="19" height="19"/><rect x="1341" y="748" width="19" height="19"/><rect x="1341" y="767" width="19" height="21"/></g>
<text x="1345" y="557" class="b" font-style="italic" font-size="15">h<tspan font-size="11" dy="3">a</tspan></text>
<text x="1345" y="814" class="b" font-style="italic" font-size="15">h<tspan font-size="11" dy="3">b</tspan></text>
<path d="M1362,499H1385V574" class="ln" marker-end="url(#ar)"/>
<path d="M1360,757H1384V685" class="ln" marker-end="url(#ar)"/>
<rect x="1367" y="578" width="32" height="100" rx="9" fill="#f2c8df"/>
<text transform="translate(1390,628) rotate(-90)" class="b" font-size="15" text-anchor="middle">CONCAT</text>
<path d="M1402,628H1422" class="ln" marker-end="url(#ar)"/>
<rect x="1428" y="585" width="30" height="83" fill="#e3ebf8" stroke="#c0d6ee" stroke-width="2"/>
<text transform="translate(1451,627) rotate(-90)" class="m" font-size="21" text-anchor="middle">MLP</text>
<path d="M1461,628H1479" class="ln" marker-end="url(#ar)"/>
<rect x="1482" y="609" width="35" height="36" rx="10" fill="#fbe06a"/>
<text x="1499" y="632" class="m" font-size="18" text-anchor="middle">P<tspan font-size="12" dy="4">ab</tspan></text>
</svg>
</body></html>
